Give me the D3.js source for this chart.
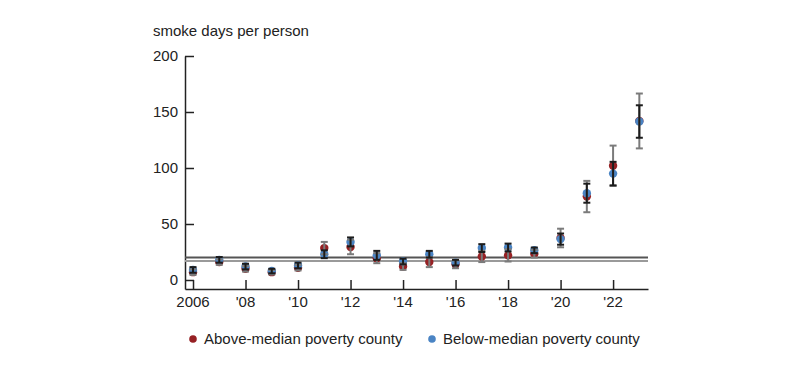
<!DOCTYPE html>
<html>
<head>
<meta charset="utf-8">
<script src="https://cdn.jsdelivr.net/npm/d3@7"></script>
<style>
  body { margin: 0; background: #fff; }
  text { font-family: "Liberation Sans", Arial, sans-serif; fill: #222; }
</style>
</head>
<body>
<div id="chart"></div>
<script>
// data
var years = [2006, 2007, 2008, 2009, 2010, 2011, 2012, 2013, 2014, 2015, 2016, 2017, 2018, 2019, 2020, 2021, 2022, 2023];
var aboveVal = [7, 16, 10, 7, 11, 28.5, 29.5, 19.5, 12, 16, 14, 21, 22, 23.5, 37.5, 74.5, 102, 142];
var aboveErr = [2.5, 2.5, 2.5, 2, 2.5, 5.5, 6.5, 4.5, 3, 4.5, 3.5, 5, 5.5, 3.5, 8.3, 14, 18, 24.5];
var belowVal = [9, 18, 12, 8, 13, 23, 34, 22, 16.5, 23, 15.5, 28.5, 29, 26.5, 36.5, 77.5, 95, 141.5];
var belowErr = [2.5, 2.5, 2.5, 2, 2.5, 3.5, 4, 4, 2.5, 3, 2.5, 3.5, 3.5, 2.5, 5, 8.5, 10.5, 14.5];
var avgLines = [20, 17]; // below-median, above-median
var yTicks = [0, 50, 100, 150, 200];
var xTicks = [2006, 2008, 2010, 2012, 2014, 2016, 2018, 2020, 2022];
var seriesNames = ["Above-median poverty county", "Below-median poverty county"];

var W = 800, H = 368;
var red = "#962124", blue = "#4a84c4", grey = "#7b7b7b", black = "#1c1c1c";

var svg = d3.select("#chart").append("svg").attr("width", W).attr("height", H);

var x = d3.scaleLinear().domain([2005.695, 2023.33]).range([185, 648]);
var y = d3.scaleLinear().domain([-8.04, 200]).range([289, 56]);

// y axis (ticks point inward)
svg.append("g")
  .attr("transform", "translate(185,0)")
  .call(d3.axisRight(y).tickValues(yTicks).tickSize(9).tickSizeOuter(0).tickFormat(""))
  .call(g => g.selectAll("path,line").attr("stroke", "#222").attr("stroke-width", 1.5));

svg.append("g").selectAll("text").data(yTicks).join("text")
  .attr("x", 178).attr("y", d => y(d)).attr("dy", "0.35em")
  .attr("text-anchor", "end").attr("font-size", 15)
  .text(d => d);

// x axis
svg.append("g")
  .attr("transform", "translate(0,289)")
  .call(d3.axisTop(x).tickValues(xTicks).tickSize(9).tickSizeOuter(0).tickFormat(""))
  .call(g => g.selectAll("path,line").attr("stroke", "#222").attr("stroke-width", 1.5));

svg.append("g").selectAll("text").data(xTicks).join("text")
  .attr("x", d => x(d)).attr("y", 307)
  .attr("text-anchor", "middle").attr("font-size", 15)
  .text(d => d === 2006 ? "2006" : "'" + String(d).slice(2));

svg.append("text").attr("x", 153).attr("y", 36).attr("font-size", 15)
  .text("smoke days per person");

// average reference lines
svg.append("g").selectAll("line").data(avgLines).join("line")
  .attr("x1", 185).attr("x2", 648)
  .attr("y1", d => y(d)).attr("y2", d => y(d))
  .attr("stroke", (d, i) => i === 0 ? "#555" : "#9a9a9a")
  .attr("stroke-width", 2);

var above = years.map((yr, i) => ({ yr: yr, v: aboveVal[i], e: aboveErr[i] }));
var below = years.map((yr, i) => ({ yr: yr, v: belowVal[i], e: belowErr[i] }));

function dots(data, color) {
  svg.append("g").selectAll("circle").data(data).join("circle")
    .attr("cx", d => x(d.yr)).attr("cy", d => y(d.v)).attr("r", 4.2)
    .attr("fill", color);
}

function errBars(data, color) {
  var g = svg.append("g").attr("stroke", color).attr("stroke-width", 2);
  g.selectAll("line.v").data(data).join("line").attr("class", "v")
    .attr("x1", d => x(d.yr)).attr("x2", d => x(d.yr))
    .attr("y1", d => y(d.v - d.e)).attr("y2", d => y(d.v + d.e));
  [-1, 1].forEach(function (s) {
    g.selectAll("line.c" + (s + 1)).data(data).join("line").attr("class", "c" + (s + 1))
      .attr("x1", d => x(d.yr) - 3.5).attr("x2", d => x(d.yr) + 3.5)
      .attr("y1", d => y(d.v + s * d.e)).attr("y2", d => y(d.v + s * d.e));
  });
}

dots(above, red);
dots(below, blue);
errBars(above, grey);
errBars(below, black);

// legend
var leg = svg.append("g");
[[193, red], [432, blue]].forEach(function (p, i) {
  leg.append("circle").attr("cx", p[0]).attr("cy", 339).attr("r", 3.8).attr("fill", p[1]);
  leg.append("text").attr("x", p[0] + 11).attr("y", 344).attr("font-size", 15).text(seriesNames[i]);
});
</script>
</body>
</html>
